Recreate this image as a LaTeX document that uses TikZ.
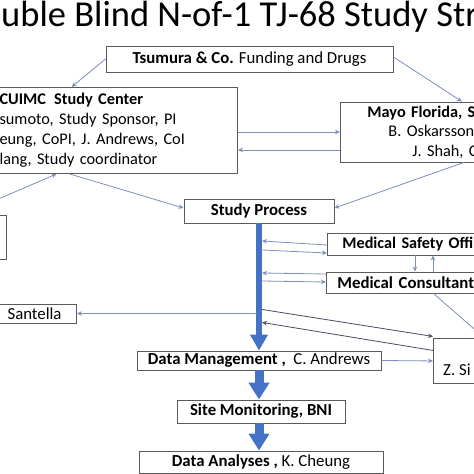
\documentclass[tikz,border=0pt]{standalone}
\usepackage{fontspec}
\setmainfont{Carlito}
\usepackage{xcolor}
\usetikzlibrary{arrows, arrows.meta, positioning, calc}

\definecolor{framegray}{HTML}{5A5A5A}
\definecolor{linkblue}{HTML}{7D8FBA}
\definecolor{linkdark}{HTML}{454D63}
\definecolor{flowblue}{HTML}{4472C4}

\begin{document}
\begin{tikzpicture}[
    x=1pt, y=-1pt,
    every node/.style={font=\fontsize{16.8}{20}\selectfont},
    box/.style={rectangle, draw=framegray, line width=0.9pt, inner sep=0pt, fill=white},
    arrow/.style={draw=linkblue, line width=0.8pt, ->, >={Stealth[length=5pt,width=4.5pt]}},
    darkarrow/.style={draw=linkdark, line width=0.8pt, ->, >={Stealth[length=5pt,width=4.5pt]}},
    flow/.style={draw=flowblue, line width=5.5pt, -{Triangle[length=16pt,width=17pt]}},
    bigflow/.style={draw=flowblue, line width=9pt, -{Triangle[length=17pt,width=20pt]}}
]
\useasboundingbox (0,0) rectangle (474,474);
\clip (0,0) rectangle (474,474);

% Title
\node (title) [anchor=base west, inner sep=0pt, font=\fontsize{36.5}{42}\selectfont] at (1,26) {uble Blind N-of-1 TJ-68 Study Str};

% Sponsor
\node (tsumura) [box, minimum width=287, minimum height=26] at (249.5,59) {\textbf{Tsumura \& Co.} Funding and Drugs};

% Study centers
\node (cuimc) [box, anchor=north east, inner xsep=20pt, text width=218, align=left, minimum height=86,
  font=\fontsize{16.3}{20}\selectfont] at (238,87)
  {\textbf{CUIMC\ \,Study Center}\\sumoto, Study Sponsor, PI\\eung, CoPI, J. Andrews, CoI\\lang, Study coordinator};
\node (mayo) [box, anchor=west, inner xsep=27pt, text width=143, align=left, minimum height=60,
  font=\fontsize{16.3}{19.5}\selectfont] at (340,132)
  {\textbf{Mayo Florida, S}\\\hspace*{21pt}B. Oskarsson\\\hspace*{45pt}J. Shah, C};
\node (leftbox) [box, anchor=north east, minimum width=90, minimum height=44] at (7,215) {};

% Study flow
\node (study) [box, minimum width=150, minimum height=24] at (259,211) {\textbf{Study Process}};
\node (dm) [box, minimum width=244, minimum height=19] at (259,360.5) {\textbf{Data Management ,}\ \ C. Andrews};
\node (sm) [box, minimum width=168, minimum height=23] at (261,411.5) {\textbf{Site Monitoring, BNI}};
\node (da) [box, minimum width=244, minimum height=22] at (261,462) {\textbf{Data Analyses ,} K. Cheung};
\coordinate (bar) at (262,223);
\coordinate (barL) at (257,223);

% Safety and outside parties
\node (mso) [box, anchor=west, inner xsep=15pt, text width=165, align=left, minimum height=22,
  font=\fontsize{16.2}{20}\selectfont] at (327,244) {\textbf{Medical Safety Offi}};
\node (mc) [box, anchor=west, inner xsep=11pt, text width=160, align=left, minimum height=21] at (326,282.5) {\textbf{Medical Consultant}};
\node (santella) [box, anchor=east, inner xsep=15pt, text width=100, align=right, minimum height=19] at (77,313.5) {. Santella};
\node (zbox) [box, anchor=north west, minimum width=102, minimum height=45] at (433,338) {};
\node (zname) [anchor=base west, inner sep=0pt] at (443,375) {Z. Si};

% Arrows
\draw [arrow] (tsumura.west) -- ([xshift=-37pt]cuimc.north);
\draw [arrow] ([yshift=2pt]tsumura.east) -- ([xshift=23pt]mayo.north);
\draw [arrow] (cuimc.east |- mayo.west) -- (mayo.west);
\draw [arrow] ([yshift=-18pt]mayo.west) -- ([yshift=-18pt]cuimc.east |- mayo.west);
\draw [arrow] (leftbox.north) -- ([xshift=-52pt]cuimc.south);
\draw [arrow] ([xshift=-39pt]cuimc.south) -- ([yshift=3pt]study.west);
\draw [arrow] ([xshift=25pt]mayo.south) -- ([yshift=3pt]study.east);

\draw [flow] (study.south) -- (dm.north);
\draw [bigflow] (dm.south) -- (dm.south |- sm.north);
\draw [bigflow] (dm.south |- sm.south) -- (dm.south |- da.north);

\draw [arrow] ([yshift=-1pt]mso.west) -- ([yshift=3pt]mso.west -| bar);
\draw [arrow] ([yshift=-6pt]mso.west -| bar) -- ([yshift=-9pt]mso.west);
\draw [arrow] ([yshift=8.5pt]mc.west) -- ([yshift=9.5pt]mc.west -| bar);
\draw [arrow] ([yshift=1.5pt]mc.west -| bar) -- ([yshift=0.5pt]mc.west);
\draw [arrow] ([xshift=-10pt]mso.south) -- ([xshift=-10pt]mso.south |- mc.north);
\draw [arrow] ([xshift=8pt]mso.south |- mc.north) -- ([xshift=8pt]mso.south);

\draw [arrow] (barL |- santella.east) -- (santella.east);
\draw [darkarrow] ([yshift=51.5pt]zbox.west -| bar) -- ([yshift=24.5pt]zbox.west);
\draw [darkarrow] ([yshift=10.5pt]zbox.west) -- ([yshift=38.5pt]zbox.west -| bar);
\draw [arrow] (dm.east) -- (zbox.west);
\draw [arrow] ([xshift=16pt]mc.south) -- (zbox.north);

\end{tikzpicture}
\end{document}
